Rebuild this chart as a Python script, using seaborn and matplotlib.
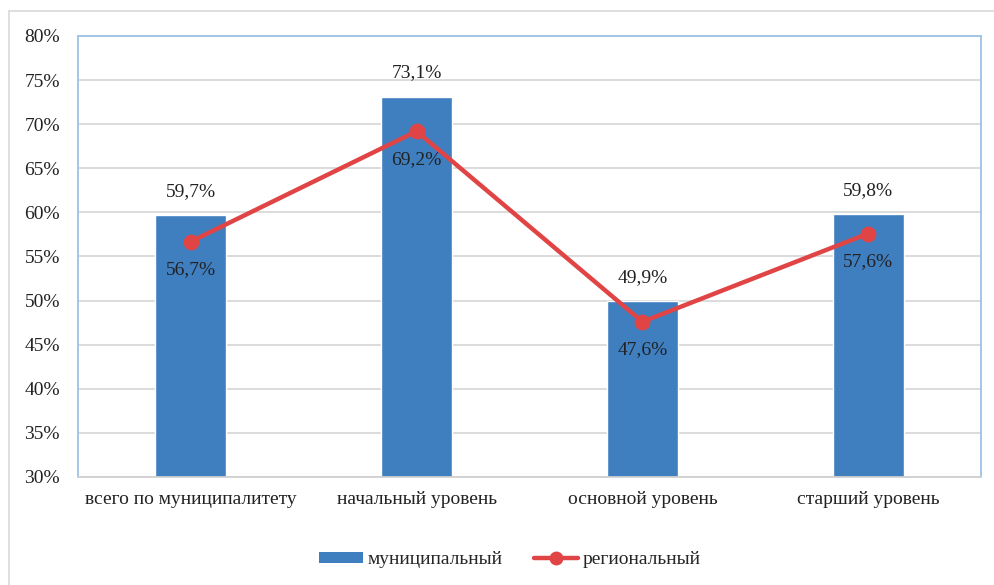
import matplotlib
matplotlib.use("Agg")
import matplotlib.pyplot as plt
import seaborn as sns
import pandas as pd
from matplotlib.patches import Patch
from matplotlib.lines import Line2D

categories = ["всего по муниципалитету", "начальный уровень", "основной уровень", "старший уровень"]
municipal = [59.7, 73.1, 49.9, 59.8]
regional = [56.7, 69.2, 47.6, 57.6]
yticks = [30, 35, 40, 45, 50, 55, 60, 65, 70, 75, 80]
series_names = ["муниципальный", "региональный"]

bar_color = "#3F7EBF"
line_color = "#E04444"

sns.set_theme(style="white")
plt.rcParams['font.family'] = ['Liberation Serif', 'DejaVu Serif']

df = pd.DataFrame({"cat": categories, "mun": municipal, "reg": regional})

fig = plt.figure(figsize=(9.95, 5.85), dpi=100)
ax = fig.add_axes([78/995, 1-477/585, (981-78)/995, (477-36)/585])

sns.barplot(data=df, x="cat", y="mun", color=bar_color, width=0.315, ax=ax,
            saturation=1, zorder=2)
sns.pointplot(data=df, x="cat", y="reg", color=line_color, ax=ax,
              markers="o", markersize=9, linewidth=3.2, zorder=3)

ax.set_ylim(30, 80)
ax.set_yticks(yticks)
ax.set_yticklabels([f"{v}%" for v in yticks])
ax.set_xlim(-0.5, 3.5)
ax.set_xlabel("")
ax.set_ylabel("")
ax.grid(axis="y", color="#D9D9D9", linewidth=1.3, zorder=0)
ax.set_axisbelow(True)
ax.tick_params(axis="both", labelsize=14, colors="#222222", length=0)
ax.tick_params(axis="x", pad=10)
ax.tick_params(axis="y", pad=13)

for name, sp in ax.spines.items():
    sp.set_visible(True)
    sp.set_color("#9DC3E6")
    sp.set_linewidth(1.3)
ax.spines["bottom"].set_color("#D0D0D0")

for i, (m, r) in enumerate(zip(municipal, regional)):
    ax.annotate(f"{m:.1f}%".replace(".", ","), (i, m), xytext=(0, 11), textcoords="offset points",
                ha="center", va="bottom", fontsize=14, color="#222222")
    ax.annotate(f"{r:.1f}%".replace(".", ","), (i, r), xytext=(0, -14), textcoords="offset points",
                ha="center", va="top", fontsize=14, color="#222222")

handles = [Patch(facecolor=bar_color, edgecolor="none"),
           Line2D([0], [0], color=line_color, linewidth=3.2, marker="o", markersize=9)]
fig.legend(handles, series_names, loc="center", bbox_to_anchor=(510/995, 1-560/585),
           ncol=2, frameon=False, fontsize=14, handlelength=2.25, handleheight=0.5,
           columnspacing=1.6, handletextpad=0.25)

fig.add_artist(Line2D([9/995, 9/995], [0, 1-11/585], transform=fig.transFigure, color="#D9D9D9", linewidth=1.2))
fig.add_artist(Line2D([9/995, 1], [1-11/585, 1-11/585], transform=fig.transFigure, color="#D9D9D9", linewidth=1.2))

fig.savefig("out.png", dpi=100)
